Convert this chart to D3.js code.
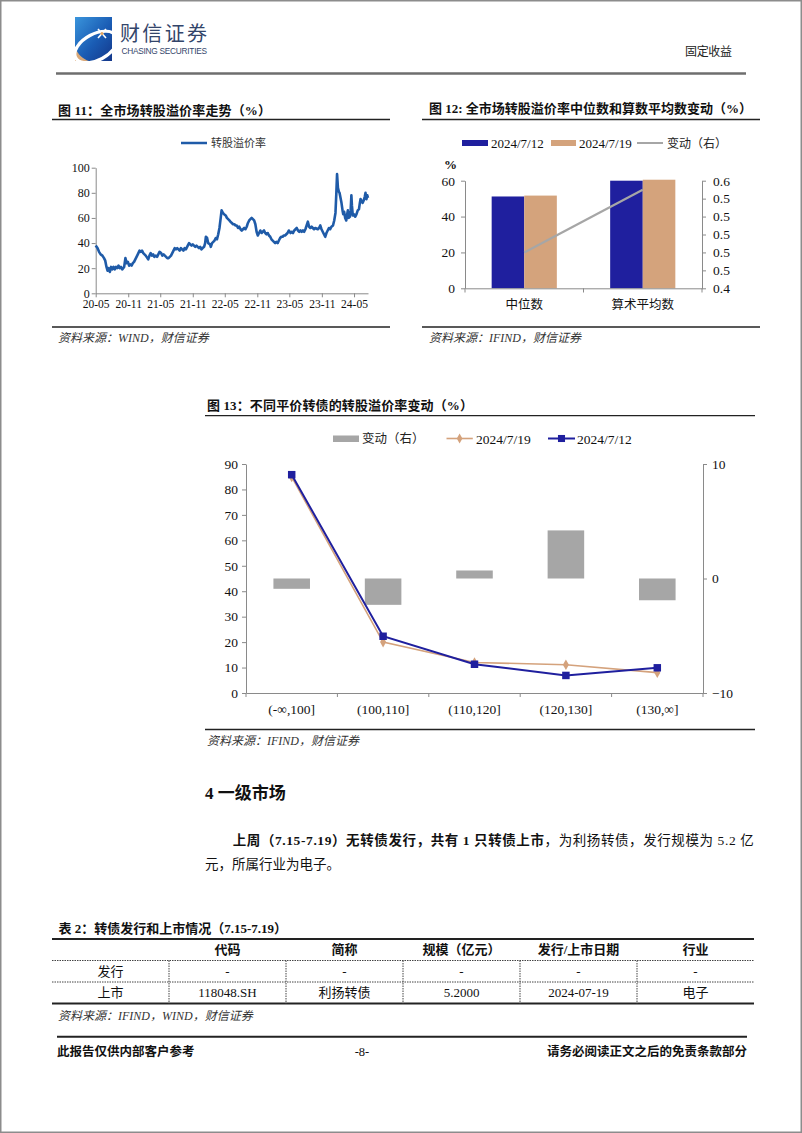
<!DOCTYPE html>
<html><head><meta charset="utf-8">
<script src="https://cdn.jsdelivr.net/npm/d3@7/dist/d3.min.js"></script>
<style>html,body{margin:0;padding:0;background:#fff;} svg{display:block;}</style>
</head><body>
<svg id="page" width="802" height="1133" xmlns="http://www.w3.org/2000/svg"></svg>
<script>
// ================= DATA =================
const premiumDates = ["2020-05-01","2020-05-11","2020-05-20","2020-05-29","2020-06-08","2020-06-17","2020-06-24","2020-07-01","2020-07-07","2020-07-13","2020-07-20","2020-07-27","2020-08-03","2020-08-10","2020-08-17","2020-08-24","2020-08-31","2020-09-07","2020-09-14","2020-09-21","2020-09-28","2020-10-09","2020-10-16","2020-10-23","2020-10-30","2020-11-06","2020-11-13","2020-11-20","2020-11-27","2020-12-04","2020-12-11","2020-12-18","2020-12-25","2021-01-04","2021-01-11","2021-01-18","2021-01-25","2021-02-01","2021-02-08","2021-02-22","2021-03-01","2021-03-08","2021-03-15","2021-03-22","2021-03-29","2021-04-06","2021-04-13","2021-04-20","2021-04-27","2021-05-06","2021-05-13","2021-05-20","2021-05-27","2021-06-03","2021-06-10","2021-06-17","2021-06-24","2021-07-01","2021-07-08","2021-07-15","2021-07-22","2021-07-29","2021-08-05","2021-08-12","2021-08-19","2021-08-26","2021-09-02","2021-09-09","2021-09-16","2021-09-23","2021-09-30","2021-10-11","2021-10-18","2021-10-25","2021-11-01","2021-11-08","2021-11-15","2021-11-22","2021-11-29","2021-12-06","2021-12-13","2021-12-20","2021-12-27","2022-01-04","2022-01-10","2022-01-14","2022-01-21","2022-01-27","2022-02-07","2022-02-11","2022-02-18","2022-02-25","2022-03-04","2022-03-11","2022-03-18","2022-03-25","2022-04-01","2022-04-08","2022-04-13","2022-04-20","2022-04-27","2022-05-06","2022-05-13","2022-05-20","2022-05-27","2022-06-02","2022-06-10","2022-06-17","2022-06-24","2022-07-01","2022-07-08","2022-07-15","2022-07-22","2022-07-29","2022-08-05","2022-08-12","2022-08-19","2022-08-26","2022-09-02","2022-09-09","2022-09-16","2022-09-23","2022-09-30","2022-10-14","2022-10-21","2022-10-28","2022-11-04","2022-11-11","2022-11-18","2022-11-25","2022-12-02","2022-12-09","2022-12-16","2022-12-23","2022-12-30","2023-01-06","2023-01-13","2023-01-20","2023-02-03","2023-02-10","2023-02-17","2023-02-24","2023-03-03","2023-03-10","2023-03-17","2023-03-24","2023-03-31","2023-04-07","2023-04-14","2023-04-21","2023-04-28","2023-05-08","2023-05-15","2023-05-22","2023-05-29","2023-06-05","2023-06-12","2023-06-19","2023-06-26","2023-07-03","2023-07-10","2023-07-17","2023-07-24","2023-07-31","2023-08-07","2023-08-14","2023-08-21","2023-08-28","2023-09-04","2023-09-11","2023-09-18","2023-09-25","2023-10-09","2023-10-16","2023-10-23","2023-10-30","2023-11-06","2023-11-13","2023-11-20","2023-11-27","2023-12-04","2023-12-11","2023-12-18","2023-12-25","2024-01-03","2024-01-10","2024-01-17","2024-01-22","2024-01-26","2024-01-31","2024-02-05","2024-02-09","2024-02-20","2024-02-26","2024-03-01","2024-03-06","2024-03-12","2024-03-18","2024-03-22","2024-03-27","2024-04-01","2024-04-08","2024-04-12","2024-04-16","2024-04-19","2024-04-24","2024-04-29","2024-05-08","2024-05-15","2024-05-22","2024-05-29","2024-06-03","2024-06-07","2024-06-13","2024-06-19","2024-06-25","2024-07-01","2024-07-05","2024-07-10","2024-07-15","2024-07-19"];
const premiumValues = [38,36,33,31,30,28,26,21,18,20,17,21,19,21,19,21,20,22,20,21,19,21,28,24,25,22,23,22,24,25,27,29,31,34,33,34,32,31,30,27,30,32,30,31,29,30,29,31,33,32,30,31,30,29,28,28,29,30,32,34,36,35,36,35,34,36,35,34,36,35,37,40,39,38,39,38,37,38,37,36,37,35,36,37,40,45,44,40,39,37,40,41,42,44,43,47,52,60,66,64,63,62,60,59,58,57,56,55,55,54,54,52,53,51,50,51,52,51,53,56,58,59,60,58,55,49,46,48,50,48,49,50,48,47,48,46,45,43,41,40,41,40,42,44,45,45,46,46,47,48,50,48,49,48,50,51,52,50,49,50,49,50,49,51,54,57,53,52,53,52,51,52,51,52,54,51,49,47,45,48,50,52,51,53,54,58,64,80,95,84,81,80,72,66,63,65,60,58,62,66,60,61,66,78,70,62,63,61,63,66,67,72,75,73,72,74,77,80,75,78,76];
const fig11TickLabels = ["20-05","20-11","21-05","21-11","22-05","22-11","23-05","23-11","24-05"];
const fig11YTicks = [0,20,40,60,80,100];

const fig12Categories = ["中位数","算术平均数"];
const fig12Series = ["2024/7/12","2024/7/19"];
const fig12Jul12 = [51.2, 60.0];
const fig12Jul19 = [51.7, 60.55];
const fig12Change = [0.48, 0.55];
const fig12LeftTicks = [0,20,40,60];
const fig12RightTicks = [0.44,0.46,0.48,0.50,0.52,0.54,0.56];

const fig13Categories = ["(-∞,100]","(100,110]","(110,120]","(120,130]","(130,∞]"];
const fig13Jul19 = [84.9, 20.0, 12.0, 11.1, 8.0];
const fig13Jul12 = [85.8, 22.3, 11.3, 6.9, 9.9];
const fig13Change = [-0.9, -2.3, 0.7, 4.2, -1.9];
const fig13LeftTicks = [0,10,20,30,40,50,60,70,80,90];
const fig13RightTicks = [-10,0,10];

const tableColumns = ["","代码","简称","规模（亿元）","发行/上市日期","行业"];
const tableRowIssue = ["发行","-","-","-","-","-"];
const tableRowList = ["上市","118048.SH","利扬转债","5.2000","2024-07-19","电子"];

// ================= HELPERS =================
const SERIF = "'Liberation Serif','Noto Sans CJK SC',serif";
const CJK = "'Noto Sans CJK SC','Liberation Serif',sans-serif";
const AX = "#8a8a8a";
const svg = d3.select("#page");

function txt(x, y, s, o = {}) {
  const t = svg.append("text").attr("x", x).attr("y", y)
    .attr("font-family", o.ff || SERIF).attr("font-size", o.fs || 13)
    .attr("fill", o.fill || "#111").text(s);
  if (o.bold) t.attr("font-weight", "bold");
  if (o.italic) t.attr("font-style", "italic");
  if (o.anchor) t.attr("text-anchor", o.anchor);
  if (o.len) t.attr("textLength", o.len).attr("lengthAdjust", "spacing");
  return t;
}
function hline(x1, x2, y, w = 1.2, c = "#111", dash) {
  const l = svg.append("line").attr("x1", x1).attr("x2", x2).attr("y1", y).attr("y2", y)
    .attr("stroke", c).attr("stroke-width", w);
  if (dash) l.attr("stroke-dasharray", dash);
  return l;
}
function styleAxis(g, fs) {
  g.select(".domain").attr("stroke", AX).attr("stroke-width", 1);
  g.selectAll(".tick line").attr("stroke", AX);
  g.selectAll(".tick text").attr("font-family", SERIF).attr("font-size", fs).attr("fill", "#111");
}

// ================= PAGE FRAME / HEADER =================
svg.append("rect").attr("x", 0.75).attr("y", 0.75).attr("width", 800.5).attr("height", 1131.5)
  .attr("fill", "none").attr("stroke", "#8c8c8c").attr("stroke-width", 1.5);

const defs = svg.append("defs");
const lg = defs.append("linearGradient").attr("id", "logoGrad").attr("x1", 0).attr("y1", 0).attr("x2", 1).attr("y2", 1);
lg.append("stop").attr("offset", "0%").attr("stop-color", "#3a95dc");
lg.append("stop").attr("offset", "55%").attr("stop-color", "#1a5cb4");
lg.append("stop").attr("offset", "100%").attr("stop-color", "#14378a");
defs.append("clipPath").attr("id", "logoClip").append("rect").attr("x", 0).attr("y", 0).attr("width", 37).attr("height", 44);
const logo = svg.append("g").attr("transform", "translate(75,17)");
const logoIn = logo.append("g").attr("clip-path", "url(#logoClip)");
logoIn.append("rect").attr("width", 37).attr("height", 44).attr("fill", "url(#logoGrad)");
logoIn.append("path").attr("d", "M0,30 C3,38 8,42 14,44 L0,44 Z").attr("fill", "#d9a878");
logoIn.append("ellipse").attr("cx", 0).attr("cy", 0).attr("rx", 23).attr("ry", 13)
  .attr("transform", "translate(21,30) rotate(-28)")
  .attr("fill", "none").attr("stroke", "#fff").attr("stroke-width", 3.2);
logo.append("path").attr("d", "M23,12 L31,21 M31,12 L23,21").attr("stroke", "#fff").attr("stroke-width", 1.6);
logo.append("circle").attr("cx", 27).attr("cy", 16.5).attr("r", 1.6).attr("fill", "#e8a862");
txt(120, 40.5, "财信证券", { ff: CJK, fs: 20, fill: "#33456a", len: 87 });
txt(121.5, 54, "CHASING SECURITIES", { ff: "'Liberation Sans',sans-serif", fs: 8.3, fill: "#33456a", len: 85.5 });
txt(685, 56, "固定收益", { ff: CJK, fs: 12, fill: "#222", len: 47 });
hline(56, 746, 73.5, 2.5, "#6e6e6e");

// ================= FIG 11 =================
txt(58, 115, "图 11：全市场转股溢价率走势（%）", { bold: true, fs: 13, len: 213 });
hline(52, 390, 119.5, 1.3, "#222");
hline(52, 390, 327, 1.3, "#222");
txt(58, 342, "资料来源：WIND，财信证券", { italic: true, fs: 12, fill: "#333" });

const parseDay = d3.timeParse("%Y-%m-%d");
const parseYM = d3.timeParse("%y-%m");
const premium = premiumDates.map((d, i) => ({ date: parseDay(d), v: premiumValues[i] }));
const x11 = d3.scaleTime().domain([parseDay("2020-05-01"), parseDay("2024-07-19")]).range([95.7, 368]);
const y11 = d3.scaleLinear().domain([0, 100]).range([293.3, 167.7]);

const gx11 = svg.append("g").attr("transform", "translate(0,293.3)")
  .call(d3.axisBottom(x11).tickValues(fig11TickLabels.map(parseYM))
    .tickFormat(d3.timeFormat("%y-%m")).tickSize(4).tickSizeOuter(0).tickPadding(3));
styleAxis(gx11, 11.5);
const gy11 = svg.append("g").attr("transform", "translate(95.7,0)")
  .call(d3.axisLeft(y11).tickValues(fig11YTicks).tickSize(4).tickSizeOuter(0).tickPadding(2));
styleAxis(gy11, 12);

svg.append("path").datum(premium)
  .attr("d", d3.line().x(d => x11(d.date)).y(d => y11(d.v)))
  .attr("fill", "none").attr("stroke", "#1f5ba8").attr("stroke-width", 2.6)
  .attr("stroke-linejoin", "round");

hline(181, 207, 143, 2.5, "#1f5ba8");
txt(211, 147, "转股溢价率", { ff: CJK, fs: 11, fill: "#333" });

// ================= FIG 12 =================
txt(429, 113, "图 12: 全市场转股溢价率中位数和算数平均数变动（%）", { bold: true, fs: 13, len: 323 });
hline(422, 760, 119.5, 1.3, "#222");
hline(422, 760, 327, 1.3, "#222");
txt(429, 342, "资料来源：IFIND，财信证券", { italic: true, fs: 12, fill: "#333" });

const C12 = { "2024/7/12": "#1f1f9e", "2024/7/19": "#d4a37c" };
const x12 = d3.scaleBand().domain(fig12Categories).range([465, 702]);
const x12s = d3.scaleBand().domain(fig12Series).range([x12.bandwidth() * 0.225, x12.bandwidth() * 0.775]);
const y12 = d3.scaleLinear().domain([0, 60]).range([288.3, 180.7]);
const y12r = d3.scaleLinear().domain([0.44, 0.56]).range([288.3, 180.7]);

const gy12 = svg.append("g").attr("transform", "translate(465,0)")
  .call(d3.axisLeft(y12).tickValues(fig12LeftTicks).tickSize(4).tickSizeOuter(0).tickPadding(6));
styleAxis(gy12, 13.5);
const gy12r = svg.append("g").attr("transform", "translate(702,0)")
  .call(d3.axisRight(y12r).tickValues(fig12RightTicks).tickFormat(d3.format(".1f")).tickSize(4).tickSizeOuter(0).tickPadding(7));
styleAxis(gy12r, 13.5);
const gx12 = svg.append("g").attr("transform", "translate(0,288.3)")
  .call(d3.axisBottom(x12).tickSize(0).tickPadding(12));
styleAxis(gx12, 13);
gx12.selectAll(".tick text").attr("font-family", CJK).attr("font-size", 12.5);
svg.append("g").selectAll("line").data(d3.range(fig12Categories.length + 1)).join("line")
  .attr("x1", i => x12.range()[0] + i * x12.step()).attr("x2", i => x12.range()[0] + i * x12.step())
  .attr("y1", 288.3).attr("y2", 292.5).attr("stroke", AX);

const bars12 = [];
fig12Categories.forEach((c, i) => {
  bars12.push({ c, s: fig12Series[0], v: fig12Jul12[i] });
  bars12.push({ c, s: fig12Series[1], v: fig12Jul19[i] });
});
svg.append("g").selectAll("rect").data(bars12).join("rect")
  .attr("x", d => x12(d.c) + x12s(d.s)).attr("width", x12s.bandwidth())
  .attr("y", d => y12(d.v)).attr("height", d => y12(0) - y12(d.v))
  .attr("fill", d => C12[d.s]);
svg.append("path").datum(fig12Categories.map((c, i) => ({ c, v: fig12Change[i] })))
  .attr("d", d3.line().x(d => x12(d.c) + x12.bandwidth() / 2).y(d => y12r(d.v)))
  .attr("fill", "none").attr("stroke", "#a6a6a6").attr("stroke-width", 2.2);
gy12.raise(); gx12.raise();

txt(444, 169, "%", { fs: 13, bold: true });
svg.append("rect").attr("x", 462).attr("y", 140).attr("width", 26).attr("height", 6).attr("fill", C12["2024/7/12"]);
txt(491, 148, fig12Series[0], { fs: 13 });
svg.append("rect").attr("x", 551).attr("y", 140).attr("width", 25).attr("height", 6).attr("fill", C12["2024/7/19"]);
txt(579, 148, fig12Series[1], { fs: 13 });
hline(637, 663, 143, 2, "#a6a6a6");
txt(667, 148, "变动（右）", { ff: CJK, fs: 12, fill: "#222" });

// ================= FIG 13 =================
txt(207, 410, "图 13：不同平价转债的转股溢价率变动（%）", { bold: true, fs: 13, len: 266 });
hline(205, 755, 415.7, 1.3, "#222");
hline(205, 755, 729.5, 1.3, "#222");
txt(207, 745, "资料来源：IFIND，财信证券", { italic: true, fs: 12, fill: "#333" });

const x13 = d3.scaleBand().domain(fig13Categories).range([246, 703]);
const x13b = d3.scaleBand().domain(fig13Categories).range([246, 703]).paddingInner(0.6).paddingOuter(0.3);
const y13 = d3.scaleLinear().domain([0, 90]).range([693, 464]);
const y13r = d3.scaleLinear().domain([-10, 10]).range([693, 464]);

svg.append("g").selectAll("rect").data(fig13Categories.map((c, i) => ({ c, v: fig13Change[i] }))).join("rect")
  .attr("x", d => x13b(d.c)).attr("width", x13b.bandwidth())
  .attr("y", d => y13r(Math.max(0, d.v))).attr("height", d => Math.abs(y13r(d.v) - y13r(0)))
  .attr("fill", "#a6a6a6");

const gy13 = svg.append("g").attr("transform", "translate(246,0)")
  .call(d3.axisLeft(y13).tickValues(fig13LeftTicks).tickSize(4).tickSizeOuter(0).tickPadding(4));
styleAxis(gy13, 13.5);
const gy13r = svg.append("g").attr("transform", "translate(703,0)")
  .call(d3.axisRight(y13r).tickValues(fig13RightTicks).tickSize(4).tickSizeOuter(0).tickPadding(5));
styleAxis(gy13r, 13.5);
const gx13 = svg.append("g").attr("transform", "translate(0,693)")
  .call(d3.axisBottom(x13).tickSize(0).tickPadding(11));
styleAxis(gx13, 13.5);
svg.append("g").selectAll("line").data(d3.range(fig13Categories.length + 1)).join("line")
  .attr("x1", i => x13.range()[0] + i * x13.step()).attr("x2", i => x13.range()[0] + i * x13.step())
  .attr("y1", 693).attr("y2", 697).attr("stroke", AX);

const line13 = d3.line().x(d => x13(d.c) + x13.bandwidth() / 2).y(d => y13(d.v));
const tan = fig13Categories.map((c, i) => ({ c, v: fig13Jul19[i] }));
const blue = fig13Categories.map((c, i) => ({ c, v: fig13Jul12[i] }));
svg.append("path").datum(tan).attr("d", line13).attr("fill", "none").attr("stroke", "#d4a27c").attr("stroke-width", 1.6);
svg.append("g").selectAll("path").data(tan).join("path")
  .attr("transform", d => `translate(${x13(d.c) + x13.bandwidth() / 2},${y13(d.v)})`)
  .attr("d", d3.symbol(d3.symbolDiamond, 32)).attr("fill", "#d4a27c");
svg.append("path").datum(blue).attr("d", line13).attr("fill", "none").attr("stroke", "#1f1f9e").attr("stroke-width", 2);
svg.append("g").selectAll("path").data(blue).join("path")
  .attr("transform", d => `translate(${x13(d.c) + x13.bandwidth() / 2},${y13(d.v)})`)
  .attr("d", d3.symbol(d3.symbolSquare, 56)).attr("fill", "#1f1f9e");

svg.append("rect").attr("x", 333).attr("y", 435.5).attr("width", 26).attr("height", 6.5).attr("fill", "#a6a6a6");
txt(362, 443, "变动（右）", { ff: CJK, fs: 12.5, fill: "#222" });
hline(446.5, 472.8, 438.5, 1.6, "#d4a27c");
svg.append("path").attr("transform", "translate(459.6,438.5)").attr("d", d3.symbol(d3.symbolDiamond, 28)).attr("fill", "#d4a27c");
txt(476, 443.5, "2024/7/19", { fs: 13.5 });
hline(548, 575, 438.5, 2, "#1f1f9e");
svg.append("path").attr("transform", "translate(561.5,438.5)").attr("d", d3.symbol(d3.symbolSquare, 50)).attr("fill", "#1f1f9e");
txt(577, 443.5, "2024/7/12", { fs: 13.5 });

// ================= SECTION TEXT =================
txt(205, 799, "4 一级市场", { bold: true, fs: 17 });
const p1 = svg.append("text").attr("x", 232.7).attr("y", 845).attr("font-family", SERIF)
  .attr("font-size", 13.5).attr("fill", "#111").attr("textLength", 521).attr("lengthAdjust", "spacing");
p1.append("tspan").attr("font-weight", "bold").text("上周（7.15-7.19）无转债发行，共有 1 只转债上市");
p1.append("tspan").text("，为利扬转债，发行规模为 5.2 亿");
txt(205, 869, "元，所属行业为电子。", { fs: 13.5 });

// ================= TABLE =================
txt(58.5, 933, "表 2：转债发行和上市情况（7.15-7.19）", { bold: true, fs: 13 });
const colX = d3.scaleBand().domain(d3.range(tableColumns.length)).range([52, 754]);
const rowY = d3.scaleBand().domain(["head", "issue", "list"]).range([939, 1003.5]);
hline(52, 754, 939, 2, "#222");
hline(52, 754, rowY("issue"), 1, "#444", "1.5,1");
hline(52, 754, rowY("list"), 1, "#444", "1.5,1");
hline(52, 754, 1003.5, 2, "#222");
d3.range(1, tableColumns.length).forEach(i => {
  svg.append("line").attr("x1", colX(i)).attr("x2", colX(i))
    .attr("y1", rowY("issue")).attr("y2", 1003.5).attr("stroke", "#444").attr("stroke-dasharray", "1.5,1");
});
[["head", tableColumns], ["issue", tableRowIssue], ["list", tableRowList]].forEach(([r, cells]) => {
  cells.forEach((s, i) => {
    txt(colX(i) + colX.bandwidth() / 2, rowY(r) + rowY.bandwidth() / 2 + 4.6, s,
      { fs: 13, anchor: "middle", bold: r === "head" });
  });
});
txt(58, 1019.5, "资料来源：IFIND，WIND，财信证券", { italic: true, fs: 12, fill: "#333" });

// ================= FOOTER =================
hline(57, 747, 1036.7, 2, "#222");
txt(57, 1056, "此报告仅供内部客户参考", { bold: true, fs: 12.5 });
txt(362, 1056, "-8-", { fs: 12.5, anchor: "middle" });
txt(747, 1056, "请务必阅读正文之后的免责条款部分", { bold: true, fs: 12.5, anchor: "end" });
</script>
</body></html>
